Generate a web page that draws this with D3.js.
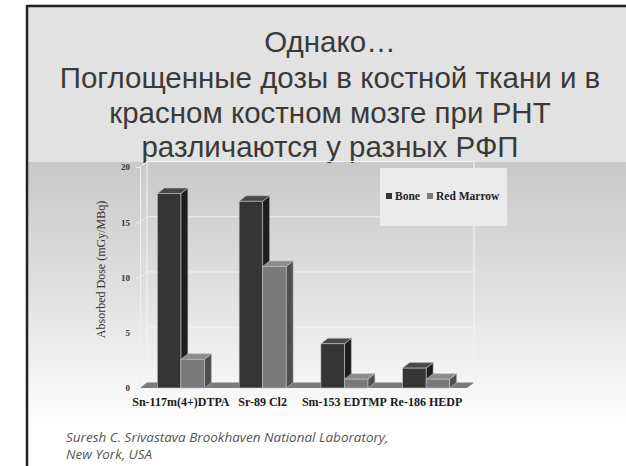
<!DOCTYPE html>
<html>
<head>
<meta charset="utf-8">
<script src="https://cdn.jsdelivr.net/npm/d3@7/dist/d3.min.js"></script>
<style>
  html, body { margin: 0; padding: 0; background: #fff; }
  svg { display: block; }
</style>
</head>
<body>
<svg id="slide" width="626" height="466"></svg>
<script>
// Slide title lines
const titleLines = [
  "Однако…",
  "Поглощенные дозы в костной ткани и в",
  "красном костном мозге при РНТ",
  "различаются у разных РФП"
];

// Radiopharmaceuticals and absorbed doses (mGy/MBq)
const categories = ["Sn-117m(4+)DTPA", "Sr-89 Cl2", "Sm-153 EDTMP", "Re-186 HEDP"];
const seriesNames = ["Bone", "Red Marrow"];
const boneDose = [17.6, 16.9, 4.0, 1.8];
const marrowDose = [2.6, 11.0, 0.8, 0.8];
const yTicks = [0, 5, 10, 15, 20];

const yTitle = "Absorbed Dose (mGy/MBq)";
const sourceLines = ["Suresh C. Srivastava Brookhaven National Laboratory,", "New York, USA"];

const svg = d3.select("#slide");
const W = 626, H = 466;

// ---- slide background and frame ----
const defs = svg.append("defs");
const grad = defs.append("linearGradient")
  .attr("id", "chartBg").attr("x1", 0).attr("y1", 0).attr("x2", 0).attr("y2", 1);
grad.append("stop").attr("offset", "0%").attr("stop-color", "#c9c9c9");
grad.append("stop").attr("offset", "45%").attr("stop-color", "#dedede");
grad.append("stop").attr("offset", "85%").attr("stop-color", "#f6f6f6");
grad.append("stop").attr("offset", "100%").attr("stop-color", "#ffffff");

svg.append("rect").attr("x", 0).attr("y", 0).attr("width", W).attr("height", H).attr("fill", "#fff");
svg.append("rect").attr("x", 27).attr("y", 6).attr("width", W - 27).attr("height", 157).attr("fill", "#e2e2e2");
svg.append("rect").attr("x", 27).attr("y", 162).attr("width", W - 27).attr("height", 265).attr("fill", "url(#chartBg)");
// frame lines
svg.append("line").attr("x1", 27).attr("x2", W).attr("y1", 6).attr("y2", 6)
  .attr("stroke", "#222").attr("stroke-width", 2.5);
svg.append("line").attr("x1", 27).attr("x2", 27).attr("y1", 5).attr("y2", H)
  .attr("stroke", "#222").attr("stroke-width", 2.5);

// ---- title ----
const titleBaselines = [52, 88, 123, 157];
svg.append("g").selectAll("text").data(titleLines).join("text")
  .attr("x", 330).attr("y", (d, i) => titleBaselines[i])
  .attr("text-anchor", "middle")
  .attr("font-family", "'Liberation Sans', Arial, sans-serif")
  .attr("font-size", 29.5)
  .attr("fill", "#3a3a3a")
  .text(d => d);

// ---- chart geometry ----
const plotLeft = 140, plotRight = 467;
const depthX = 7, depthY = -5.5;

const x0 = d3.scaleBand().domain(categories).range([plotLeft, plotRight]).paddingInner(0.425).paddingOuter(0.2125);
const x1 = d3.scaleBand().domain(seriesNames).range([0, x0.bandwidth()]);
const y = d3.scaleLinear().domain([0, 20]).range([388, 167]);

const chart = svg.append("g");

// back wall
const wall = chart.append("g");
wall.append("rect")
  .attr("x", plotLeft + depthX).attr("y", y(20) + depthY)
  .attr("width", plotRight - plotLeft).attr("height", y(0) - y(20))
  .attr("fill", "none").attr("stroke", "#f4f4f4").attr("stroke-width", 1);
wall.selectAll("line.grid").data(yTicks.filter(t => t > 0 && t < 20)).join("line")
  .attr("class", "grid")
  .attr("x1", plotLeft + depthX).attr("x2", plotRight + depthX)
  .attr("y1", d => y(d) + depthY).attr("y2", d => y(d) + depthY)
  .attr("stroke", "#f2f2f2").attr("stroke-width", 1);
// side wall edges from axis to back wall
wall.selectAll("line.side").data(yTicks).join("line")
  .attr("class", "side")
  .attr("x1", plotLeft).attr("x2", plotLeft + depthX)
  .attr("y1", d => y(d)).attr("y2", d => y(d) + depthY)
  .attr("stroke", "#eeeeee").attr("stroke-width", 1);

// floor
const floorPts = [
  [plotLeft, y(0)], [plotRight, y(0)],
  [plotRight + depthX, y(0) + depthY], [plotLeft + depthX, y(0) + depthY]
];
chart.append("polygon")
  .attr("points", floorPts.map(p => p.join(",")).join(" "))
  .attr("fill", "#7b7b7b");

// y axis
const yAxis = d3.axisLeft(y).tickValues(yTicks).tickSize(4).tickPadding(6);
const ax = chart.append("g").attr("transform", `translate(${plotLeft},0)`).call(yAxis);
ax.select(".domain").attr("stroke", "#f0f0f0");
ax.selectAll(".tick line").attr("stroke", "#f0f0f0");
ax.selectAll(".tick text")
  .attr("font-family", "'Liberation Serif', 'Times New Roman', serif")
  .attr("font-weight", "bold").attr("font-size", 9).attr("fill", "#333");

// y axis title
svg.append("text")
  .attr("transform", `translate(105,${(y(0) + y(20)) / 2 - 8}) rotate(-90)`)
  .attr("text-anchor", "middle")
  .attr("font-family", "'Liberation Serif', 'Times New Roman', serif")
  .attr("font-size", 12).attr("fill", "#333")
  .text(yTitle);

// ---- 3D bars ----
const palette = {
  "Bone": { front: "#353535", top: "#484848", side: "#1d1d1d" },
  "Red Marrow": { front: "#7a7a7a", top: "#8c8c8c", side: "#4e4e4e" }
};
const barData = [];
categories.forEach((c, i) => {
  barData.push({ cat: c, series: "Bone", value: boneDose[i] });
  barData.push({ cat: c, series: "Red Marrow", value: marrowDose[i] });
});
// draw left-to-right so each bar covers the side of the one before it
const bars = chart.append("g").selectAll("g.bar").data(barData).join("g").attr("class", "bar");
bars.each(function (d) {
  const g = d3.select(this);
  const bx = x0(d.cat) + x1(d.series);
  const bw = x1.bandwidth();
  const yt = y(d.value), yb = y(0);
  const col = palette[d.series];
  // side face
  g.append("polygon")
    .attr("points", [[bx + bw, yt], [bx + bw + depthX, yt + depthY], [bx + bw + depthX, yb + depthY], [bx + bw, yb]]
      .map(p => p.join(",")).join(" "))
    .attr("fill", col.side).attr("stroke", "#bbb").attr("stroke-width", 0.6);
  // top face
  g.append("polygon")
    .attr("points", [[bx, yt], [bx + depthX, yt + depthY], [bx + bw + depthX, yt + depthY], [bx + bw, yt]]
      .map(p => p.join(",")).join(" "))
    .attr("fill", col.top).attr("stroke", "#bbb").attr("stroke-width", 0.6);
  // front face
  g.append("rect")
    .attr("x", bx).attr("y", yt).attr("width", bw).attr("height", yb - yt)
    .attr("fill", col.front).attr("stroke", "#c4c4c4").attr("stroke-width", 0.6);
});

// category labels
chart.append("g").selectAll("text").data(categories).join("text")
  .attr("x", d => x0(d) + x0.bandwidth() / 2)
  .attr("y", 406)
  .attr("text-anchor", "middle")
  .attr("font-family", "'Liberation Serif', 'Times New Roman', serif")
  .attr("font-weight", "bold").attr("font-size", 12).attr("fill", "#1a1a1a")
  .text(d => d);

// ---- legend ----
const legend = svg.append("g").attr("transform", "translate(380,168)");
legend.append("rect").attr("width", 127).attr("height", 58).attr("fill", "#ebebeb");
const legendItems = [
  { name: seriesNames[0], x: 6, color: palette["Bone"].front },
  { name: seriesNames[1], x: 47, color: palette["Red Marrow"].front }
];
const li = legend.selectAll("g").data(legendItems).join("g")
  .attr("transform", d => `translate(${d.x},0)`);
li.append("rect").attr("x", 0).attr("y", 25).attr("width", 6).attr("height", 6).attr("fill", d => d.color);
li.append("text").attr("x", 9).attr("y", 32)
  .attr("font-family", "'Liberation Serif', 'Times New Roman', serif")
  .attr("font-weight", "bold").attr("font-size", 11.5).attr("fill", "#222")
  .text(d => d.name);

// ---- source ----
svg.append("g").selectAll("text").data(sourceLines).join("text")
  .attr("x", 66).attr("y", (d, i) => 442 + i * 17)
  .attr("font-family", "'Open Sans', 'DejaVu Sans', sans-serif")
  .attr("font-style", "italic").attr("font-size", 13.5).attr("fill", "#555")
  .text(d => d);
</script>
</body>
</html>
